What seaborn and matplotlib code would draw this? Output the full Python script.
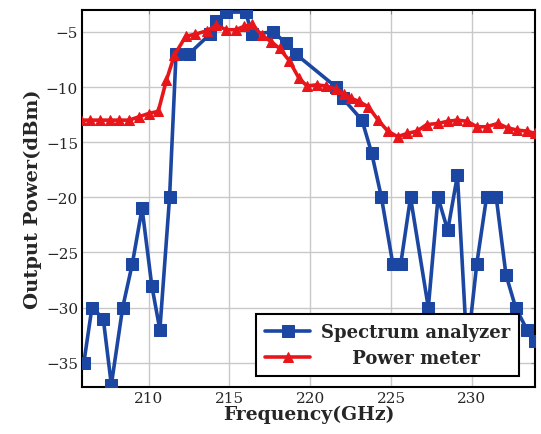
import pandas as pd
import matplotlib
matplotlib.use("Agg")
import matplotlib.pyplot as plt
import seaborn as sns

# spectrum analyzer readings
sa_freq = [206.0, 206.5, 207.2, 207.7, 208.4, 209.0, 209.6, 210.2, 210.7, 211.3,
           211.7, 212.5, 213.8, 214.2, 214.8, 216.0, 216.4, 217.7, 218.5, 219.1,
           221.6, 222.0, 223.2, 223.8, 224.4, 225.1, 225.6, 226.2, 227.3, 227.9,
           228.5, 229.1, 229.7, 230.3, 230.9, 231.5, 232.1, 232.7, 233.4, 233.9]
sa_power = [-35, -30, -31, -37, -30, -26, -21, -28, -32, -20,
            -7, -7, -5.2, -4, -3.2, -3.2, -5.2, -5, -6, -7,
            -10, -11, -13, -16, -20, -26, -26, -20, -30, -20,
            -23, -18, -34, -26, -20, -20, -27, -30, -32, -33]

# power meter readings
pm_freq = [205.8, 206.4, 207.0, 207.6, 208.2, 208.8, 209.4, 210.0, 210.6, 211.1,
           211.6, 212.3, 212.9, 213.6, 214.2, 214.8, 215.4, 215.9, 216.4, 217.0,
           217.6, 218.1, 218.7, 219.3, 219.8, 220.4, 221.0, 221.6, 222.1, 222.5,
           223.0, 223.6, 224.2, 224.8, 225.4, 226.0, 226.6, 227.2, 227.9, 228.5,
           229.1, 229.7, 230.3, 230.9, 231.6, 232.2, 232.8, 233.4, 233.9]
pm_power = [-13.0, -13.0, -13.0, -13.0, -13.0, -13.0, -12.7, -12.4, -12.2, -9.4,
            -7.1, -5.4, -5.2, -4.9, -4.4, -4.8, -4.8, -4.5, -4.3, -5.3,
            -5.9, -6.5, -7.6, -9.2, -9.9, -9.8, -9.9, -10.2, -10.6, -11.0,
            -11.3, -11.8, -13.0, -14.0, -14.5, -14.2, -14.0, -13.4, -13.3, -13.1,
            -13.0, -13.1, -13.6, -13.6, -13.3, -13.7, -13.9, -14.0, -14.2]

x_ticks = [210, 215, 220, 225, 230]
y_ticks = [-35, -30, -25, -20, -15, -10, -5]

sa = pd.DataFrame({"freq": sa_freq, "power": sa_power})
pm = pd.DataFrame({"freq": pm_freq, "power": pm_power})

sns.set_style("whitegrid")
plt.rcParams["font.family"] = ["DejaVu Serif"]

fig = plt.figure(figsize=(5.41, 4.35), dpi=100)
ax = fig.add_axes([0.152, 0.108, 0.837, 0.867])

sns.lineplot(data=sa, x="freq", y="power", ax=ax, sort=False, color="#1b47a3",
             linewidth=2.6, marker="s", markersize=8.5, markeredgecolor="#1b47a3",
             label="Spectrum analyzer", zorder=3)
sns.lineplot(data=pm, x="freq", y="power", ax=ax, sort=False, color="#e8161a",
             linewidth=2.6, marker="^", markersize=7.5, markeredgecolor="#e8161a",
             label="     Power meter", zorder=4)

ax.set_xlim(205.9, 233.9)
ax.set_ylim(-37.2, -3.0)
ax.set_xticks(x_ticks)
ax.set_yticks(y_ticks)
ax.grid(True, color="#c8c8c8", linewidth=1.0)
ax.tick_params(direction="in", length=3, labelsize=11, right=True, top=True,
               color="#888888", pad=3)
for s in ax.spines.values():
    s.set_color("black")
    s.set_linewidth(1.5)

ax.set_xlabel("Frequency(GHz)", fontsize=13.5, fontweight="bold", labelpad=0)
ax.set_ylabel("Output Power(dBm)", fontsize=14, fontweight="bold", labelpad=3)

leg = ax.legend(loc="lower right", bbox_to_anchor=(0.985, 0.005), fancybox=False,
                framealpha=1, edgecolor="black", borderpad=0.5, handlelength=2.5,
                handletextpad=0.6, labelspacing=0.45,
                prop={"weight": "bold", "size": 13})
leg.get_frame().set_linewidth(1.5)

fig.savefig("out.png", dpi=100)
